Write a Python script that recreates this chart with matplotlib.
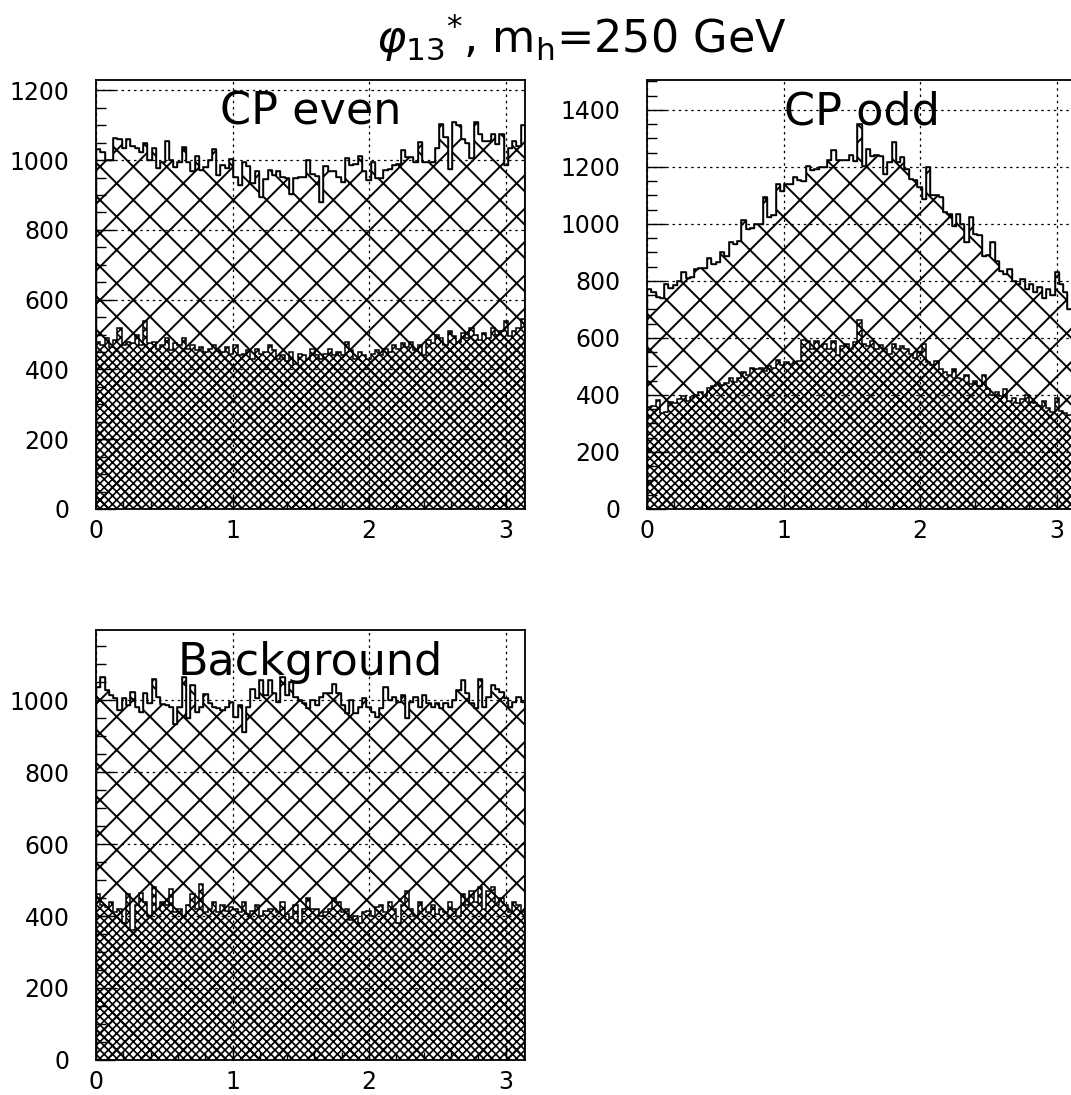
import numpy as np
import matplotlib
matplotlib.use('Agg')
import matplotlib.pyplot as plt
from matplotlib.ticker import MultipleLocator

# 100 bins in phi from 0 to pi
n_bins = 100

even_total = [1031, 1024, 1000, 1000, 1064, 1060, 1034, 1060, 1040, 1036,
              1024, 1048, 1000, 1034, 977, 996, 1055, 1000, 980, 996,
              1039, 996, 968, 1013, 973, 980, 1000, 1031, 958, 985,
              978, 1002, 953, 930, 996, 984, 935, 968, 893, 946,
              973, 958, 968, 953, 949, 902, 949, 953, 952, 1000,
              960, 955, 880, 984, 970, 970, 952, 938, 1007, 985,
              990, 1012, 970, 942, 996, 950, 948, 972, 976, 985,
              990, 1030, 1010, 1010, 996, 1052, 996, 996, 996, 1035,
              1105, 1065, 976, 1110, 1100, 1060, 1050, 1007, 1110, 1075,
              1055, 1055, 1075, 1045, 1075, 985, 1035, 1055, 1040, 1100]
even_lower = [480, 470, 490, 465, 485, 520, 470, 480, 475, 500,
              470, 540, 475, 480, 460, 470, 490, 455, 475, 470,
              490, 460, 470, 455, 465, 450, 460, 470, 455, 450,
              465, 445, 470, 440, 445, 455, 430, 460, 445, 450,
              470, 455, 430, 440, 425, 450, 415, 445, 440, 430,
              460, 440, 430, 445, 460, 440, 450, 440, 480, 455,
              430, 450, 440, 430, 445, 455, 440, 460, 450, 470,
              460, 475, 465, 480, 455, 470, 440, 485, 475, 500,
              490, 470, 510, 495, 480, 505, 490, 520, 500, 485,
              505, 490, 520, 500, 510, 540, 495, 510, 520, 545]

odd_total = [770, 760, 745, 740, 790, 775, 785, 800, 830, 810,
             815, 841, 845, 845, 882, 859, 865, 900, 888, 935,
             930, 940, 1012, 982, 985, 1000, 1000, 1094, 1023, 1030,
             1141, 1117, 1141, 1140, 1164, 1153, 1150, 1202, 1188, 1194,
             1200, 1200, 1223, 1258, 1223, 1225, 1223, 1240, 1220, 1352,
             1203, 1262, 1238, 1240, 1238, 1176, 1217, 1288, 1217, 1235,
             1194, 1159, 1153, 1129, 1088, 1200, 1100, 1100, 1095, 1041,
             1035, 994, 1035, 1000, 935, 1023, 965, 960, 888, 890,
             935, 870, 835, 824, 841, 800, 790, 805, 770, 790,
             760, 780, 740, 770, 750, 830, 790, 760, 700, 690]
odd_lower = [357, 360, 381, 335, 340, 375, 370, 385, 398, 380,
             393, 400, 410, 395, 423, 430, 441, 435, 441, 458,
             445, 460, 482, 470, 494, 490, 494, 485, 500, 495,
             523, 505, 517, 510, 517, 520, 592, 590, 560, 588,
             571, 580, 560, 588, 541, 570, 580, 560, 585, 663,
             580, 570, 590, 560, 575, 560, 545, 580, 560, 570,
             560, 545, 530, 550, 580, 515, 505, 520, 490, 480,
             470, 490, 460, 455, 470, 440, 450, 430, 470, 420,
             400, 410, 395, 420, 380, 390, 370, 385, 400, 375,
             370, 360, 380, 355, 340, 390, 345, 335, 330, 320]

bkg_total = [1037, 1065, 1028, 1014, 1005, 972, 1005, 986, 1023, 981,
             968, 1019, 991, 1060, 1009, 988, 986, 981, 935, 981,
             1065, 949, 1042, 968, 981, 1016, 991, 981, 977, 972,
             981, 995, 954, 986, 912, 981, 1032, 1005, 1056, 1014,
             1056, 1019, 995, 1065, 1014, 1051, 1009, 1000, 991, 977,
             1000, 986, 1009, 1019, 1019, 1046, 1019, 986, 963, 1000,
             963, 981, 1005, 981, 968, 954, 977, 1037, 1000, 1009,
             995, 1014, 949, 995, 1009, 981, 1014, 991, 981, 991,
             977, 991, 981, 1000, 1028, 1056, 1019, 991, 977, 1060,
             981, 1009, 1042, 1032, 1023, 1005, 981, 995, 1009, 995]
bkg_lower = [460, 430, 425, 440, 410, 420, 380, 460, 360, 430,
             465, 440, 400, 480, 420, 440, 430, 475, 410, 420,
             400, 430, 460, 420, 490, 410, 420, 440, 410, 430,
             415, 425, 420, 410, 440, 405, 415, 430, 400, 415,
             420, 420, 410, 440, 405, 395, 430, 380, 420, 450,
             420, 420, 400, 410, 420, 450, 440, 410, 420, 390,
             400, 380, 410, 415, 400, 425, 430, 410, 440, 420,
             380, 430, 470, 420, 400, 440, 420, 410, 430, 405,
             420, 410, 440, 420, 400, 460, 430, 470, 440, 480,
             420, 470, 480, 430, 450, 430, 410, 440, 430, 410]

panels = [('CP even', even_total, even_lower, 1230, 200),
          ('CP odd', odd_total, odd_lower, 1505, 200),
          ('Background', bkg_total, bkg_lower, 1195, 200)]

plt.rcParams['font.family'] = ['DejaVu Sans']

fig = plt.figure(figsize=(10.71, 10.95), dpi=100)
rects = [[0.0896, 0.5352, 0.4006, 0.3918],
         [0.6041, 0.5352, 0.4006, 0.3918],
         [0.0896, 0.0320, 0.4006, 0.3927]]

edges = np.linspace(0, np.pi, n_bins + 1)

for rect, (name, total, lower, ymax, ystep) in zip(rects, panels):
    ax = fig.add_axes(rect)
    plt.rcParams['hatch.linewidth'] = 1.4
    ax.stairs(total, edges, fill=True, facecolor='white', edgecolor='black',
              hatch='x', linewidth=1.0, zorder=1)
    ax.stairs(total, edges, fill=False, color='black', linewidth=1.1, zorder=3)
    plt.rcParams['hatch.linewidth'] = 1.2
    ax.stairs(lower, edges, fill=True, facecolor='none', edgecolor='black',
              hatch='xxxx', linewidth=1.1, zorder=2)
    ax.set_xlim(0, np.pi)
    ax.set_ylim(0, ymax)
    ax.xaxis.set_major_locator(MultipleLocator(1))
    ax.xaxis.set_minor_locator(MultipleLocator(0.2))
    ax.yaxis.set_major_locator(MultipleLocator(ystep))
    ax.yaxis.set_minor_locator(MultipleLocator(50))
    ax.tick_params(axis='both', which='both', direction='in', labelsize=17,
                   top=False, right=False)
    ax.tick_params(axis='y', which='major', length=14, width=1, pad=19)
    ax.tick_params(axis='y', which='minor', length=7, width=1)
    ax.tick_params(axis='x', which='major', length=10, width=1, pad=7)
    ax.tick_params(axis='x', which='minor', length=6, width=1)
    ax.grid(True, which='major', color='black', linestyle=(0, (2, 3)),
            linewidth=0.9, zorder=5)
    ax.set_axisbelow(False)
    for s in ax.spines.values():
        s.set_linewidth(1.3)
        s.set_zorder(6)
    ax.text(0.5, 0.925, name, transform=ax.transAxes, ha='center',
            va='center', fontsize=32, zorder=7)

fig.text(0.543, 0.966, r'$\varphi_{13}{}^{*}$, m$_{\rm h}$=250 GeV',
         ha='center', va='center', fontsize=32)

fig.savefig('out.png', dpi=100)
